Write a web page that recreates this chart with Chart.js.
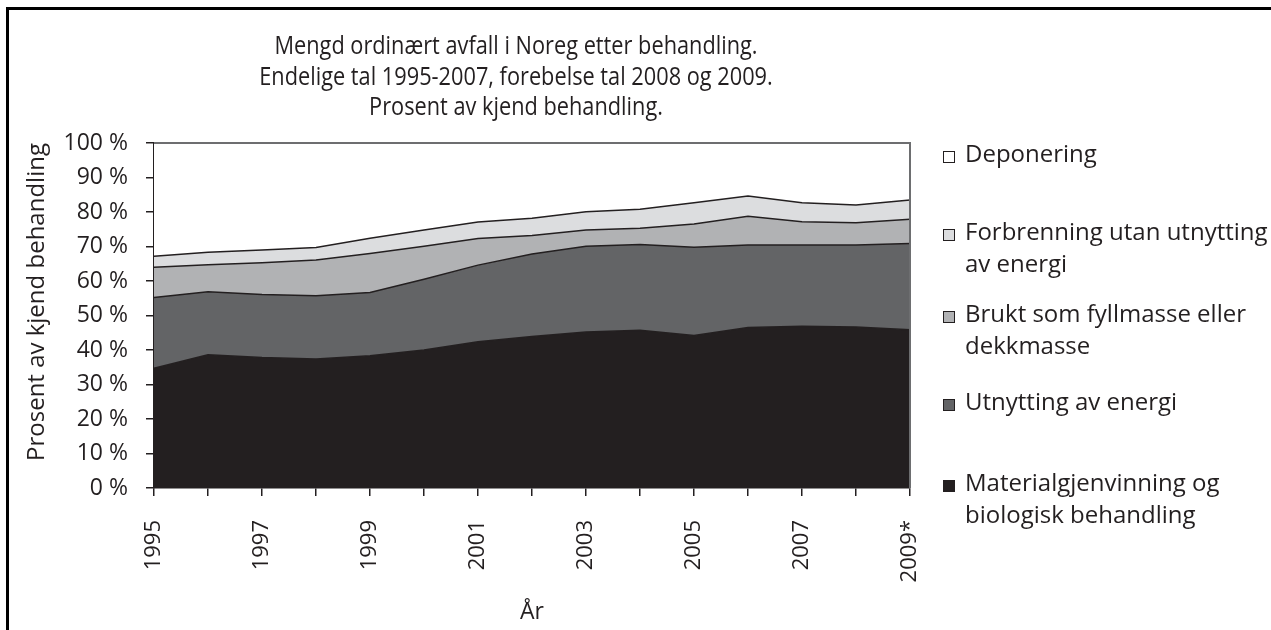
<!DOCTYPE html>
<html>
<head>
<meta charset="utf-8">
<script src="https://cdn.jsdelivr.net/npm/chart.js@4"></script>
<style>
  html, body { margin: 0; padding: 0; background: #fff; }
  #wrap { width: 1271px; height: 630px; position: relative; }
</style>
</head>
<body>
<div id="wrap"><canvas id="chart" width="1271" height="630"></canvas></div>
<script>
// Data (percent of known treatment)
const years = ['1995', '1996', '1997', '1998', '1999', '2000', '2001', '2002',
    '2003', '2004', '2005', '2006', '2007', '2008', '2009*'];

const material = [34.7, 38.6, 37.8, 37.4, 38.3, 40.0, 42.4, 43.9, 45.2, 45.7, 44.2, 46.5, 46.9, 46.7, 45.9];
const energi = [20.5, 18.3, 18.3, 18.3, 18.4, 20.5, 22.2, 23.9, 24.9, 24.9, 25.6, 23.9, 23.5, 23.7, 25.0];
const fyllmasse = [8.8, 7.8, 9.2, 10.4, 11.3, 9.6, 7.7, 5.4, 4.7, 4.7, 6.7, 8.4, 6.8, 6.5, 7.0];
const forbrenning = [3.2, 3.6, 3.7, 3.6, 4.4, 4.7, 4.8, 5.0, 5.3, 5.5, 6.2, 5.8, 5.5, 5.1, 5.6];
const deponering = [32.8, 31.7, 31.0, 30.3, 27.6, 25.2, 22.9, 21.8, 19.9, 19.2, 17.3, 15.4, 17.3, 18.0, 16.5];

const titleLines = [
    'Mengd ordinært avfall i Noreg etter behandling.',
    'Endelige tal 1995-2007, forebelse tal 2008 og 2009.',
    'Prosent av kjend behandling.'
];
const yTitle = 'Prosent av kjend behandling';
const xTitle = 'År';

const FONT = '"Open Sans", "Noto Sans", sans-serif';
const INK = '#231f20';

function wrapText(ctx, text, maxWidth) {
    const words = text.split(' ');
    const lines = [];
    let line = '';
    words.forEach(w => {
        const test = line ? line + ' ' + w : w;
        if (ctx.measureText(test).width > maxWidth && line) {
            lines.push(line);
            line = w;
        } else {
            line = test;
        }
    });
    if (line) lines.push(line);
    return lines;
}

// draws outer frame, title, y-axis title, plot frame and legend
const decorations = {
    id: 'decorations',
    beforeDraw(chart) {
        const ctx = chart.ctx;
        ctx.save();
        ctx.fillStyle = '#fff';
        ctx.fillRect(0, 0, chart.width, chart.height);
        ctx.fillStyle = '#000';
        ctx.fillRect(6, 7, 3, chart.height);
        ctx.fillRect(6, 7, chart.width, 3);
        ctx.restore();
    },
    afterDraw(chart) {
        const ctx = chart.ctx;
        const area = chart.chartArea;
        ctx.save();

        // plot frame (top and right)
        ctx.strokeStyle = '#6d6e70';
        ctx.lineWidth = 2;
        ctx.beginPath();
        ctx.moveTo(area.left, area.top);
        ctx.lineTo(area.right, area.top);
        ctx.lineTo(area.right, area.bottom);
        ctx.stroke();

        // title, a bit condensed like the original typeface
        ctx.fillStyle = INK;
        ctx.font = '25px ' + FONT;
        ctx.textAlign = 'center';
        ctx.textBaseline = 'alphabetic';
        titleLines.forEach((t, i) => {
            ctx.save();
            ctx.translate(516, 54 + i * 30.5);
            ctx.scale(0.87, 1);
            ctx.fillText(t, 0, 0);
            ctx.restore();
        });

        // y axis title
        ctx.font = '24px ' + FONT;
        ctx.translate(37, 302);
        ctx.rotate(-Math.PI / 2);
        ctx.textBaseline = 'middle';
        ctx.fillText(yTitle, 0, 0);
        ctx.setTransform(1, 0, 0, 1, 0, 0);

        // legend, top entry is last dataset
        const legendY = [155, 233, 315, 403, 484];
        ctx.font = '24px ' + FONT;
        ctx.textAlign = 'left';
        ctx.textBaseline = 'middle';
        const sets = chart.data.datasets.slice().reverse();
        sets.forEach((ds, i) => {
            const y = legendY[i];
            ctx.fillStyle = ds.backgroundColor;
            ctx.fillRect(943, y - 4, 12, 12);
            ctx.strokeStyle = INK;
            ctx.lineWidth = 1;
            ctx.strokeRect(943.5, y - 3.5, 11, 11);
            ctx.fillStyle = INK;
            wrapText(ctx, ds.label, 312).forEach((ln, j) => ctx.fillText(ln, 965, y + j * 32));
        });
        ctx.restore();
    }
};

function makeSet(label, data, color, fill) {
    return {
        label: label,
        data: data,
        backgroundColor: color,
        borderColor: INK,
        borderWidth: 1.5,
        fill: fill,
        pointRadius: 0,
        tension: 0
    };
}

new Chart(document.getElementById('chart'), {
    type: 'line',
    data: {
        labels: years,
        datasets: [
            makeSet('Materialgjenvinning og biologisk behandling', material, INK, 'origin'),
            makeSet('Utnytting av energi', energi, '#636466', '-1'),
            makeSet('Brukt som fyllmasse eller dekkmasse', fyllmasse, '#b1b2b4', '-1'),
            makeSet('Forbrenning utan utnytting av energi', forbrenning, '#dcdddf', '-1'),
            makeSet('Deponering', deponering, '#ffffff', '-1')
        ]
    },
    options: {
        responsive: false,
        animation: false,
        layout: { padding: { left: 10, right: 361, top: 143, bottom: 0 } },
        plugins: {
            legend: { display: false },
            title: { display: false },
            tooltip: { enabled: false }
        },
        scales: {
            x: {
                grid: { drawOnChartArea: false, drawTicks: true, tickLength: 8, color: INK, lineWidth: 1.5 },
                border: { color: INK, width: 1.5 },
                ticks: {
                    autoSkip: false,
                    maxRotation: 90,
                    minRotation: 90,
                    padding: 24,
                    color: INK,
                    font: { family: FONT, size: 22 },
                    callback: function (v, i) { return i % 2 === 0 ? this.getLabelForValue(v) : ''; }
                },
                title: { display: true, text: xTitle, color: INK, font: { family: FONT, size: 23 }, padding: { top: 8 } },
                afterFit(scale) { scale.height = 142; }
            },
            y: {
                stacked: true,
                min: 0,
                max: 100,
                grid: { drawOnChartArea: false, drawTicks: true, tickLength: 8, color: INK, lineWidth: 1.5 },
                border: { color: INK, width: 1.5 },
                ticks: {
                    stepSize: 10,
                    padding: 18,
                    color: INK,
                    font: { family: FONT, size: 23 },
                    callback: v => v + ' %'
                },
                afterFit(scale) { scale.width = 144; }
            }
        }
    },
    plugins: [decorations]
});
</script>
</body>
</html>
